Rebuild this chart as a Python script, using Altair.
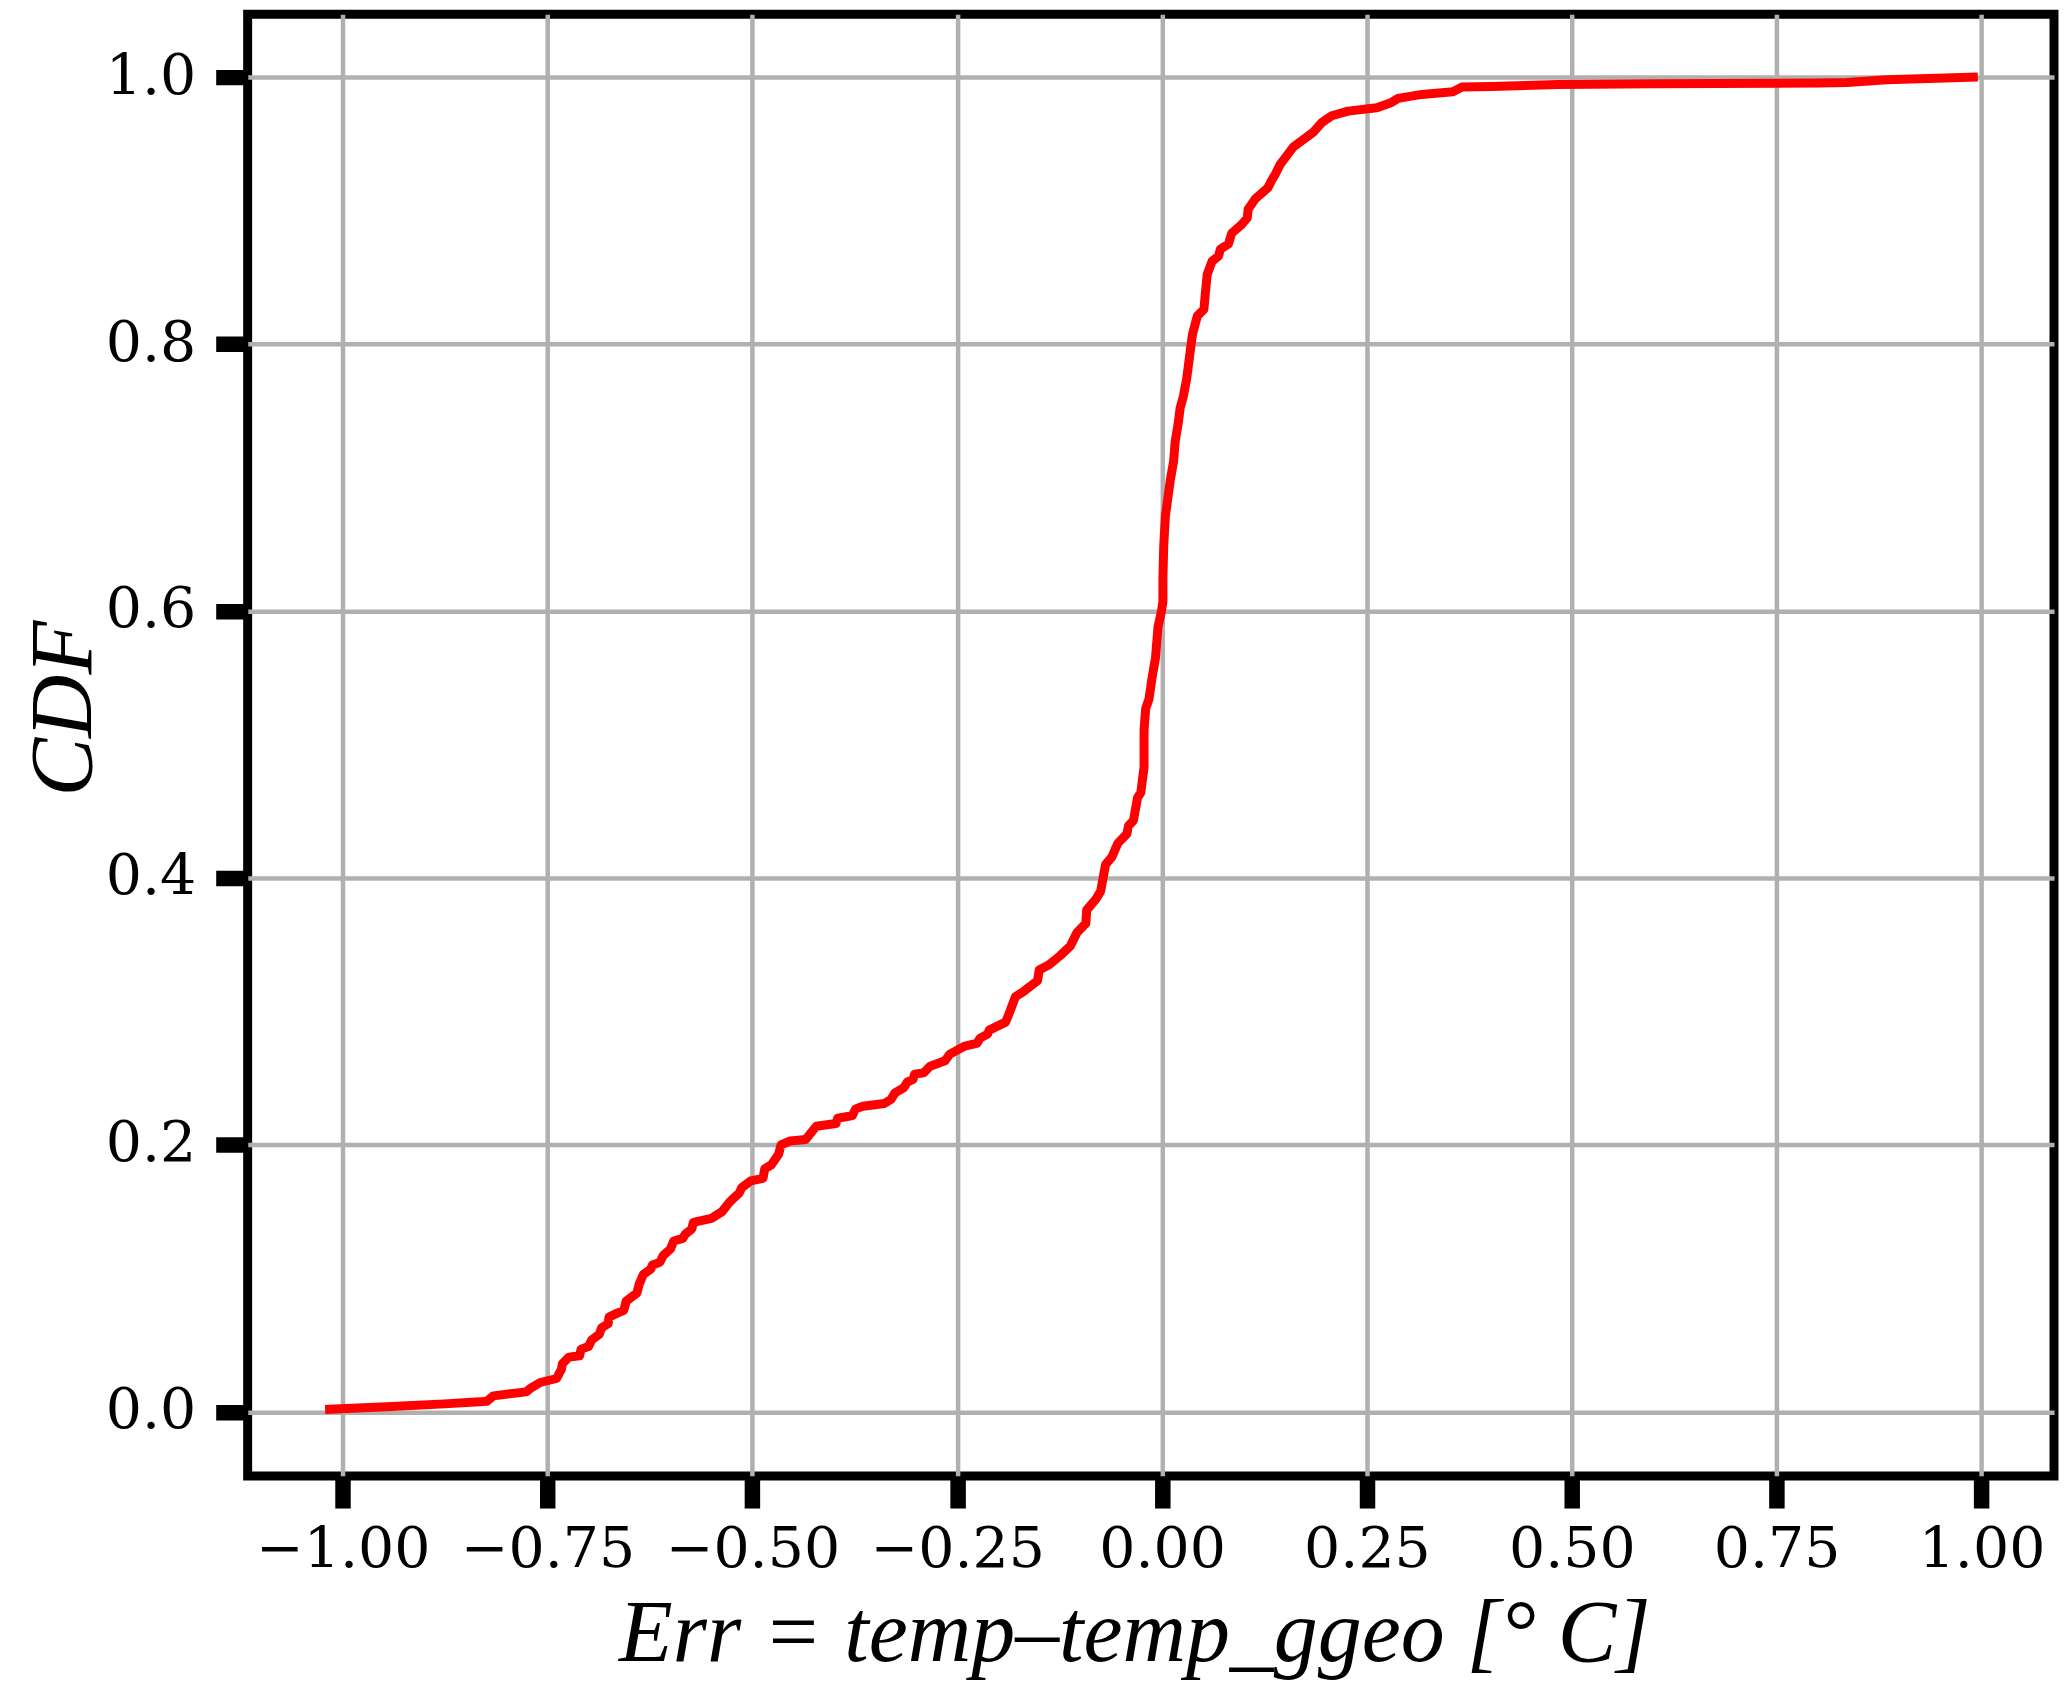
import altair as alt
import pandas as pd

# CDF of Err = temp - temp_ggeo
err = [-1.016, -0.94, -0.876, -0.833, -0.824, -0.816, -0.776, -0.770, -0.759, -0.739,
       -0.733, -0.732, -0.724, -0.711, -0.709, -0.700, -0.696, -0.687, -0.684, -0.676,
       -0.675, -0.665, -0.657, -0.654, -0.641, -0.638, -0.633, -0.624, -0.622, -0.613,
       -0.609, -0.600, -0.596, -0.585, -0.582, -0.574, -0.572, -0.550, -0.537, -0.528,
       -0.523, -0.516, -0.513, -0.502, -0.487, -0.485, -0.477, -0.468, -0.465, -0.454,
       -0.435, -0.426, -0.422, -0.398, -0.396, -0.378, -0.374, -0.365, -0.339, -0.331,
       -0.326, -0.315, -0.311, -0.304, -0.302, -0.291, -0.283, -0.265, -0.259, -0.241,
       -0.226, -0.222, -0.213, -0.211, -0.191, -0.187, -0.179, -0.169, -0.152, -0.150,
       -0.138, -0.124, -0.112, -0.104, -0.093, -0.092, -0.081, -0.075, -0.069, -0.061,
       -0.054, -0.043, -0.041, -0.035, -0.030, -0.026, -0.022, -0.022, -0.020, -0.016,
       -0.012, -0.008, -0.005, -0.001, 0.001, 0.001, 0.002, 0.004, 0.010, 0.014,
       0.016, 0.020, 0.022, 0.026, 0.030, 0.034, 0.037, 0.043, 0.051, 0.053,
       0.055, 0.061, 0.069, 0.071, 0.081, 0.085, 0.097, 0.104, 0.105, 0.114,
       0.129, 0.134, 0.138, 0.144, 0.152, 0.160, 0.171, 0.185, 0.195, 0.207,
       0.227, 0.262, 0.280, 0.288, 0.317, 0.355, 0.366, 0.402, 0.483, 0.60,
       0.80, 0.836, 0.884, 0.99]
cdf = [0.002, 0.004, 0.006, 0.0075, 0.008, 0.012, 0.015, 0.018, 0.022, 0.025,
       0.032, 0.036, 0.041, 0.042, 0.047, 0.049, 0.054, 0.058, 0.063, 0.066,
       0.071, 0.074, 0.076, 0.083, 0.089, 0.096, 0.103, 0.107, 0.110, 0.112,
       0.117, 0.122, 0.128, 0.130, 0.133, 0.137, 0.142, 0.145, 0.150, 0.157,
       0.160, 0.164, 0.168, 0.173, 0.175, 0.182, 0.185, 0.193, 0.200, 0.203,
       0.204, 0.211, 0.214, 0.216, 0.220, 0.222, 0.227, 0.229, 0.231, 0.234,
       0.239, 0.243, 0.247, 0.249, 0.253, 0.254, 0.259, 0.263, 0.268, 0.274,
       0.276, 0.280, 0.283, 0.286, 0.292, 0.298, 0.311, 0.315, 0.323, 0.331,
       0.335, 0.342, 0.349, 0.359, 0.366, 0.376, 0.384, 0.390, 0.410, 0.416,
       0.426, 0.433, 0.439, 0.443, 0.460, 0.464, 0.483, 0.511, 0.527, 0.534,
       0.551, 0.565, 0.588, 0.599, 0.607, 0.624, 0.649, 0.671, 0.698, 0.712,
       0.727, 0.742, 0.752, 0.761, 0.774, 0.793, 0.807, 0.821, 0.826, 0.8395,
       0.852, 0.862, 0.866, 0.871, 0.875, 0.883, 0.8895, 0.8945, 0.901, 0.909,
       0.917, 0.923, 0.927, 0.9345, 0.941, 0.9475, 0.9525, 0.959, 0.966, 0.971,
       0.9745, 0.977, 0.981, 0.984, 0.987, 0.989, 0.9925, 0.993, 0.9945, 0.995,
       0.9955, 0.996, 0.998, 1.0]

x_ticks = [-1.0, -0.75, -0.5, -0.25, 0.0, 0.25, 0.5, 0.75, 1.0]
y_ticks = [0.0, 0.2, 0.4, 0.6, 0.8, 1.0]

df = pd.DataFrame({"err": err, "cdf": cdf, "order": list(range(len(err)))})

line = alt.Chart(df).mark_line(
    color="#ff0000", strokeWidth=9, strokeJoin="round", strokeCap="square"
).encode(
    x=alt.X("err:Q",
            scale=alt.Scale(domain=[-1.116, 1.0885], nice=False, zero=False),
            axis=alt.Axis(values=x_ticks, format=".2f",
                          title="Err = temp–temp_ggeo [° C]",
                          labelPadding=14,
                          titleX=888, titleY=185,
                          titleAlign="center", titleBaseline="alphabetic")),
    y=alt.Y("cdf:Q",
            scale=alt.Scale(domain=[-0.0481, 1.0471], nice=False, zero=False),
            axis=alt.Axis(values=y_ticks, format=".1f", title="CDF",
                          labelPadding=20, labelOffset=-1,
                          titleX=-157, titleY=695, titleAngle=270,
                          titleAlign="center", titleBaseline="alphabetic")),
    order="order:Q",
)

chart = line.properties(
    width=1809, height=1464,
    autosize=alt.AutoSizeParams(type="none"),
    padding={"left": 240, "top": 5, "right": 5, "bottom": 203},
    background="white",
).configure_view(
    stroke="black", strokeWidth=9
).configure_axis(
    domain=False,
    grid=True, gridColor="#b0b0b0", gridWidth=4.5, gridOpacity=1,
    ticks=True, tickColor="black", tickWidth=15.5, tickSize=32,
    labelFont="DejaVu Serif", labelFontSize=57, labelColor="black",
    titleFont="Liberation Serif", titleFontStyle="italic", titleFontWeight="normal",
    titleFontSize=88, titleColor="black",
)

chart.save("out.html", embed_options={"renderer": "svg", "actions": False})
